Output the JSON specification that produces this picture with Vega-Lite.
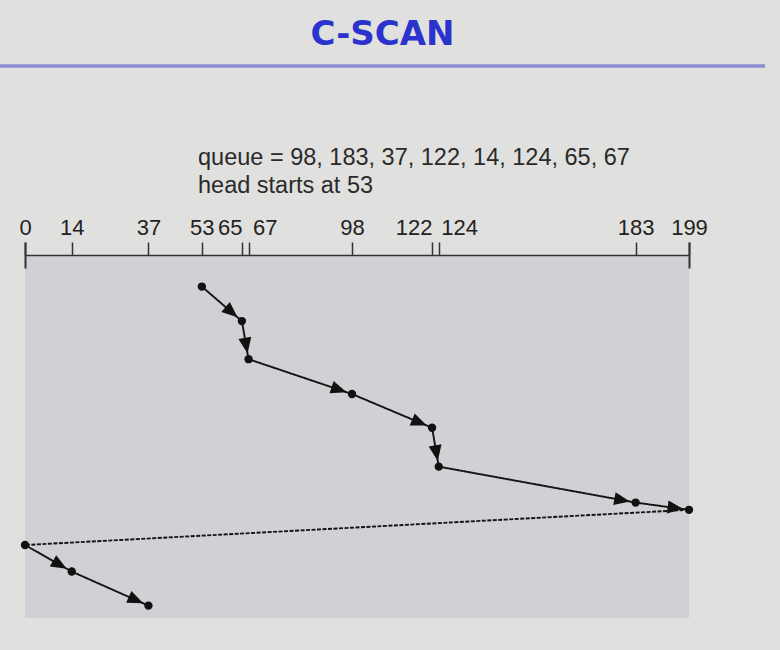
{
  "$schema": "https://vega.github.io/schema/vega-lite/v6.json",
  "background": "#e0e0de",
  "padding": {"left": 0, "top": 0, "right": 20, "bottom": 40},
  "bounds": "flush",
  "spacing": 189,
  "config": {
    "view": {"stroke": null},
    "font": "Liberation Sans"
  },
  "vconcat": [
    {
      "width": 765,
      "height": 66,
      "data": {"values": [{"heading": "C-SCAN"}]},
      "layer": [
        {
          "mark": {"type": "text", "font": "DejaVu Sans", "fontWeight": "bold", "fontSize": 34, "color": "#2a33cc", "baseline": "middle", "align": "center", "dy": 2},
          "encoding": {"text": {"field": "heading"}}
        },
        {
          "mark": {"type": "rect", "color": "#8c8cd4", "strokeWidth": 0, "height": 3.5},
          "encoding": {
            "x": {"value": 0},
            "x2": {"value": "width"},
            "y": {"value": "height"}
          }
        }
      ]
    },
    {
      "bounds": "flush",
      "spacing": 0,
      "hconcat": [
        {"width": 25, "height": 363, "data": {"values": []}, "mark": "point"},
        {
          "width": 664,
          "height": 363,
          "view": {"fill": "#d0d1d4", "stroke": null},
          "title": {
            "text": ["queue = 98, 183, 37, 122, 14, 124, 65, 67", "head starts at 53"],
            "anchor": "start",
            "frame": "group",
            "dx": 173,
            "offset": 19,
            "fontSize": 23.5,
            "fontWeight": "normal",
            "font": "Liberation Sans",
            "color": "#2a2a2a",
            "lineHeight": 28
          },
          "data": {
            "values": [
              {"step": 1, "cylinder": 53, "time": 8.7},
              {"step": 2, "cylinder": 65, "time": 18.2},
              {"step": 3, "cylinder": 67, "time": 28.7},
              {"step": 4, "cylinder": 98, "time": 38.3},
              {"step": 5, "cylinder": 122, "time": 47.6},
              {"step": 6, "cylinder": 124, "time": 58.3},
              {"step": 7, "cylinder": 183, "time": 68.2},
              {"step": 8, "cylinder": 199, "time": 70.2},
              {"step": 9, "cylinder": 0, "time": 79.9},
              {"step": 10, "cylinder": 14, "time": 87.2},
              {"step": 11, "cylinder": 37, "time": 96.6}
            ]
          },
          "resolve": {"axis": {"x": "independent"}},
          "layer": [
            {
              "transform": [
                {"window": [{"op": "lead", "field": "cylinder", "as": "nextCyl"}, {"op": "lead", "field": "time", "as": "nextTime"}], "sort": [{"field": "step"}]},
                {"filter": "datum.nextCyl != null"}
              ],
              "mark": {"type": "rule", "color": "#141414", "strokeWidth": 1.9},
              "encoding": {
                "x": {
                  "field": "cylinder", "type": "quantitative",
                  "scale": {"domain": [0, 199], "nice": false, "zero": false},
                  "axis": {
                    "orient": "top",
                    "title": null,
                    "grid": false,
                    "values": [0, 14, 37, 53, 65, 67, 98, 122, 124, 183, 199],
                    "labelFontSize": 22,
                    "labelFont": "Liberation Sans",
                    "labelColor": "#222222",
                    "labelPadding": 3,
                    "labelFlush": false,
                    "labelOverlap": false,
                    "labelBound": false,
                    "labelAlign": {"expr": "datum.value == 65 || datum.value == 122 ? 'right' : datum.value == 67 || datum.value == 124 ? 'left' : 'center'"},
                    "labelOffset": {"expr": "datum.value == 67 ? 4 : datum.value == 124 ? 2 : 0"},
                    "tickSize": 13,
                    "tickWidth": 1.5,
                    "tickColor": "#333333",
                    "domainColor": "#333333",
                    "domainWidth": 1.5
                  }
                },
                "x2": {"field": "nextCyl"},
                "y": {"field": "time", "type": "quantitative", "scale": {"domain": [0, 100], "reverse": true, "nice": false, "zero": false}, "axis": null},
                "y2": {"field": "nextTime"},
                "strokeDash": {"condition": {"test": "datum.nextCyl < datum.cylinder", "value": [4, 1.5]}, "value": [1, 0]}
              }
            },
            {
              "transform": [
                {"window": [{"op": "lag", "field": "cylinder", "as": "prevCyl"}, {"op": "lag", "field": "time", "as": "prevTime"}], "sort": [{"field": "step"}]},
                {"filter": "datum.prevCyl != null && datum.cylinder > datum.prevCyl"},
                {"calculate": "atan2((datum.time - datum.prevTime) * 3.63, (datum.cylinder - datum.prevCyl) * 664 / 199) * 180 / PI", "as": "heading"}
              ],
              "mark": {"type": "point", "shape": "M-0.55,0L-2.05,-0.62L-2.05,0.62Z", "size": 441, "filled": true, "fill": "#111111", "stroke": null, "opacity": 1},
              "encoding": {
                "x": {"field": "cylinder", "type": "quantitative", "axis": null},
                "y": {"field": "time", "type": "quantitative"},
                "angle": {"field": "heading", "type": "quantitative", "scale": null}
              }
            },
            {
              "mark": {"type": "point", "shape": "circle", "size": 70, "filled": true, "fill": "#111111", "stroke": null, "opacity": 1},
              "encoding": {
                "x": {
                  "field": "cylinder", "type": "quantitative",
                  "axis": {
                    "orient": "top",
                    "title": null,
                    "grid": false,
                    "values": [0, 199],
                    "labels": false,
                    "domain": false,
                    "offset": -13,
                    "tickSize": 26,
                    "tickWidth": 2,
                    "tickColor": "#333333"
                  }
                },
                "y": {"field": "time", "type": "quantitative"}
              }
            }
          ]
        }
      ]
    }
  ]
}
